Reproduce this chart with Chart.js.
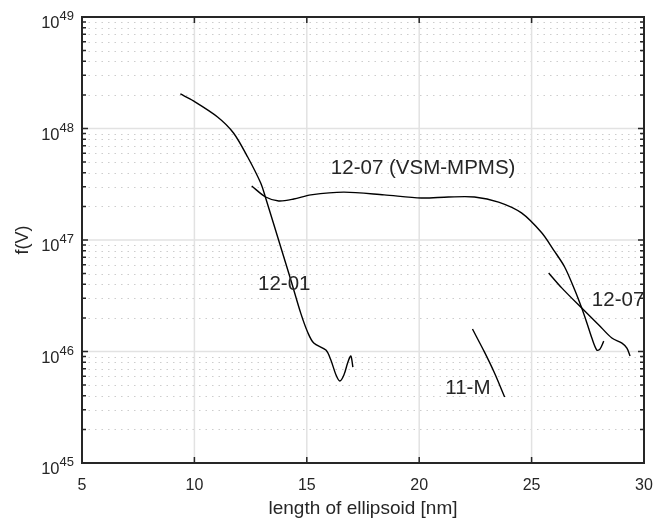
<!DOCTYPE html>
<html>
<head>
<meta charset="utf-8">
<script src="https://cdn.jsdelivr.net/npm/chart.js@4.4.1/dist/chart.umd.min.js"></script>
<style>
  html, body { margin: 0; padding: 0; background: #fff; }
  #wrap { width: 655px; height: 518px; }
</style>
</head>
<body>
<div id="wrap"><canvas id="fvChart"></canvas></div>
<script>
// 12-01
const x1201 = [9.375, 9.955, 11.03, 11.74, 12.37, 12.95, 13.17, 13.84, 14.29, 14.73, 15.05, 15.31, 15.85, 16.07, 16.30, 16.47, 16.65, 16.83, 16.96, 17.05];
const y1201 = [2.04e48, 1.77e48, 1.27e48, 9.12e47, 5.55e47, 3.24e47, 2.38e47, 8.65e46, 4.38e46, 2.21e46, 1.47e46, 1.19e46, 1.03e46, 8.39e45, 6.15e45, 5.43e45, 6.15e45, 8.05e45, 9.12e45, 7.26e45];

// 12-07 (VSM-MPMS)
const xVsm = [12.55, 13.17, 13.75, 14.42, 15.18, 16.65, 18.44, 20.09, 21.30, 22.46, 23.53, 24.55, 25.45, 25.98, 26.47, 26.92, 27.23, 27.46, 27.68, 27.90, 28.04, 28.21];
const yVsm = [3.05e47, 2.43e47, 2.24e47, 2.33e47, 2.54e47, 2.69e47, 2.54e47, 2.38e47, 2.43e47, 2.43e47, 2.19e47, 1.75e47, 1.16e47, 8.13e46, 5.73e46, 3.56e46, 2.45e46, 1.80e46, 1.32e46, 1.03e46, 1.05e46, 1.24e46];

// 12-07
const x1207 = [25.76, 26.34, 27.23, 27.99, 28.57, 29.02, 29.24, 29.38];
const y1207 = [5.06e46, 3.72e46, 2.45e46, 1.73e46, 1.32e46, 1.19e46, 1.07e46, 9.12e45];

// 11-M
const x11M = [22.37, 22.90, 23.35, 23.80];
const y11M = [1.59e46, 9.91e45, 6.41e45, 3.91e45];

const xTicks = [5, 10, 15, 20, 25, 30];
const yDecades = [45, 46, 47, 48, 49];

// curve labels: [text, x, y]
const curveLabels = [
  ["12-07 (VSM-MPMS)", 16.07, 4.38e47],
  ["12-01", 12.83, 4.03e46],
  ["11-M", 21.16, 4.71e45],
  ["12-07", 27.68, 2.90e46],
];

function pts(xs, ys) {
  return xs.map((x, i) => ({ x: x, y: ys[i] }));
}

const ink = "#262626";
const fam = "'Liberation Sans', Arial, sans-serif";

// grid, frame, inward ticks, y tick labels and curve labels, MATLAB look
const matlabAxes = {
  id: "matlabAxes",
  beforeDatasetsDraw(chart) {
    const { ctx, chartArea: a, scales } = chart;
    const xs = scales.x, ys = scales.y;
    ctx.save();
    // minor dotted lines (y only)
    ctx.strokeStyle = "#cdcdcd";
    ctx.lineWidth = 1;
    ctx.setLineDash([1.5, 5]);
    for (let d = yDecades[0]; d < yDecades[yDecades.length - 1]; d++) {
      for (let m = 2; m <= 9; m++) {
        const py = Math.round(ys.getPixelForValue(m * Math.pow(10, d))) + 0.5;
        ctx.beginPath();
        ctx.moveTo(a.left, py);
        ctx.lineTo(a.right, py);
        ctx.stroke();
      }
    }
    // major solid lines
    ctx.setLineDash([]);
    ctx.strokeStyle = "#e2e2e2";
    ctx.lineWidth = 1.5;
    yDecades.slice(1, -1).forEach(d => {
      const py = ys.getPixelForValue(Math.pow(10, d));
      ctx.beginPath();
      ctx.moveTo(a.left, py);
      ctx.lineTo(a.right, py);
      ctx.stroke();
    });
    xTicks.slice(1, -1).forEach(v => {
      const px = xs.getPixelForValue(v);
      ctx.beginPath();
      ctx.moveTo(px, a.top);
      ctx.lineTo(px, a.bottom);
      ctx.stroke();
    });
    ctx.restore();
  },
  afterDatasetsDraw(chart) {
    const { ctx, chartArea: a, scales } = chart;
    const xs = scales.x, ys = scales.y;
    ctx.save();
    ctx.strokeStyle = ink;
    ctx.lineWidth = 1.5;
    // x ticks, top and bottom
    xTicks.forEach(v => {
      const px = xs.getPixelForValue(v);
      ctx.beginPath();
      ctx.moveTo(px, a.bottom);
      ctx.lineTo(px, a.bottom - 6);
      ctx.moveTo(px, a.top);
      ctx.lineTo(px, a.top + 6);
      ctx.stroke();
    });
    // y ticks, left and right
    for (let d = yDecades[0]; d < yDecades[yDecades.length - 1]; d++) {
      for (let m = 1; m <= 9; m++) {
        const py = ys.getPixelForValue(m * Math.pow(10, d));
        const len = m === 1 ? 6 : 4;
        ctx.beginPath();
        ctx.moveTo(a.left, py);
        ctx.lineTo(a.left + len, py);
        ctx.moveTo(a.right, py);
        ctx.lineTo(a.right - len, py);
        ctx.stroke();
      }
    }
    // frame
    ctx.lineWidth = 2;
    ctx.strokeRect(a.left, a.top, a.right - a.left, a.bottom - a.top);

    // y tick labels 10^n
    ctx.fillStyle = ink;
    ctx.textAlign = "left";
    ctx.textBaseline = "alphabetic";
    yDecades.forEach(d => {
      const py = ys.getPixelForValue(Math.pow(10, d));
      const exp = String(d);
      ctx.font = "13px " + fam;
      const we = ctx.measureText(exp).width;
      ctx.font = "16.5px " + fam;
      const wb = ctx.measureText("10").width;
      const right = a.left - 8;
      ctx.fillText("10", right - we - wb, py + 11);
      ctx.font = "13px " + fam;
      ctx.fillText(exp, right - we, py + 3);
    });

    // curve labels
    ctx.font = "20.5px " + fam;
    ctx.textBaseline = "middle";
    curveLabels.forEach(([t, x, y]) => {
      ctx.fillText(t, xs.getPixelForValue(x), ys.getPixelForValue(y));
    });
    ctx.restore();
  },
};

const line = { borderColor: "#000", borderWidth: 1.4, pointRadius: 0, showLine: true, tension: 0.3, fill: false };

const ctx = document.getElementById("fvChart");
const chart = new Chart(ctx, {
  type: "scatter",
  data: {
    datasets: [
      { label: "12-01", data: pts(x1201, y1201), ...line },
      { label: "12-07 (VSM-MPMS)", data: pts(xVsm, yVsm), ...line },
      { label: "12-07", data: pts(x1207, y1207), ...line },
      { label: "11-M", data: pts(x11M, y11M), ...line },
    ],
  },
  options: {
    responsive: true,
    maintainAspectRatio: false,
    animation: false,
    layout: { padding: { left: 0, top: 17, right: 11, bottom: 0 } },
    scales: {
      x: {
        type: "linear",
        min: 5,
        max: 30,
        grid: { display: false },
        border: { display: false },
        ticks: {
          stepSize: 5,
          padding: 5,
          color: ink,
          font: { family: fam, size: 16 },
          maxRotation: 0,
        },
        title: {
          display: true,
          text: "length of ellipsoid [nm]",
          color: ink,
          font: { family: fam, size: 19 },
          padding: { top: 0, bottom: -2 },
        },
        afterFit: s => { s.height = 55; s.paddingLeft = 0; s.paddingRight = 0; },
      },
      y: {
        type: "logarithmic",
        min: 1e45,
        max: 1e49,
        grid: { display: false },
        border: { display: false },
        ticks: { display: false },
        title: {
          display: true,
          text: "f(V)",
          color: ink,
          font: { family: fam, size: 18 },
          padding: { top: 12, bottom: 0 },
        },
        afterFit: s => { s.width = 82; },
      },
    },
    plugins: {
      legend: { display: false },
      tooltip: { enabled: false },
    },
  },
  plugins: [matlabAxes],
});
</script>
</body>
</html>
